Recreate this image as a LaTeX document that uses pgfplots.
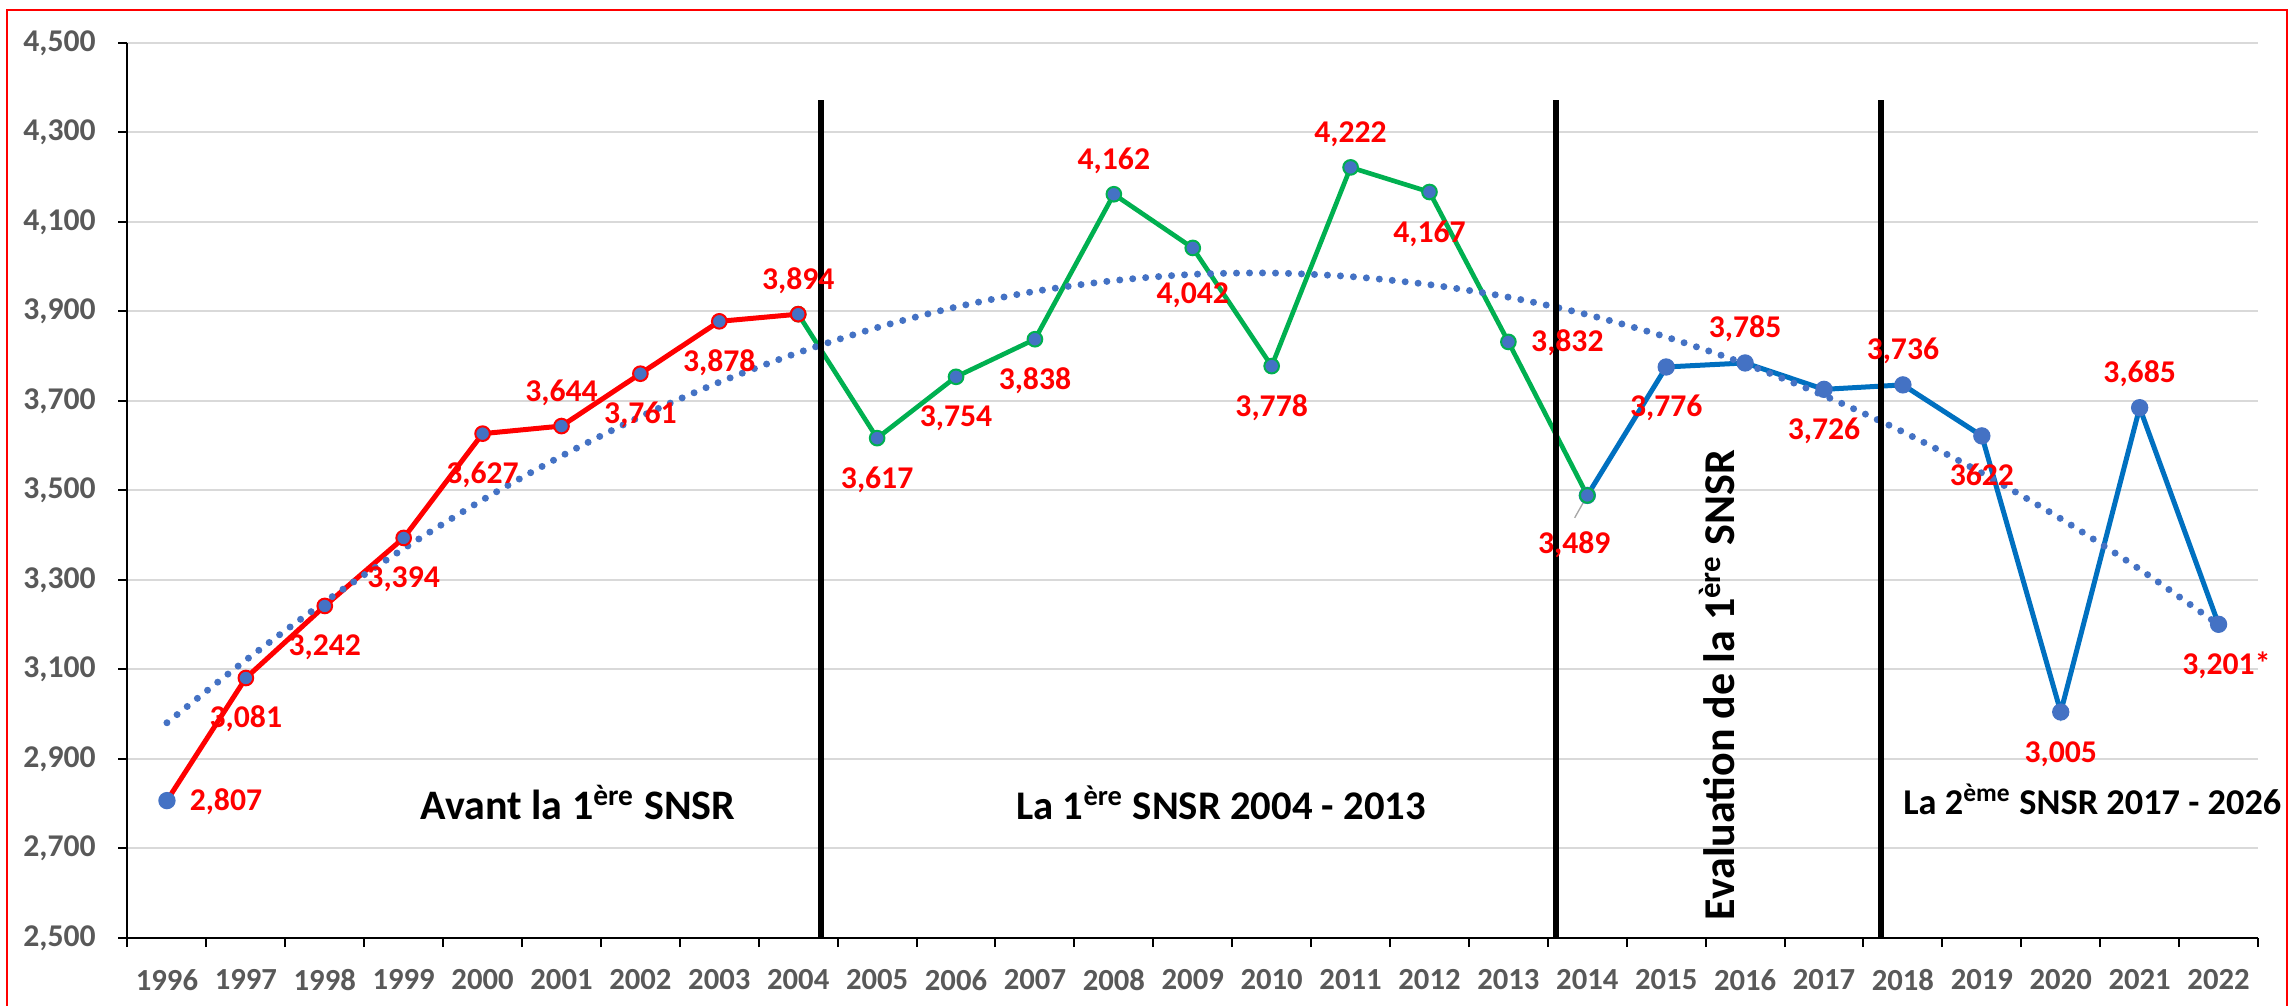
\documentclass[border=0pt]{standalone}
\usepackage{fontspec}
\setmainfont{Carlito}
\usepackage{pgfplots}
\pgfplotsset{compat=1.18}
\definecolor{cred}{HTML}{FF0000}
\definecolor{cgreen}{HTML}{00B050}
\definecolor{cblue}{HTML}{0070C0}
\definecolor{cmark}{HTML}{4472C4}
\definecolor{ctick}{HTML}{595959}
\definecolor{cgrid}{HTML}{D9D9D9}
\tikzset{
  lbl/.style={font=\fontsize{9.5}{11}\bfseries, text=cred, inner sep=0pt, anchor=base},
  bl/.style={lbl, yshift=-15pt},
  ab/.style={lbl, yshift=7.5pt},
}
\begin{document}
\begin{tikzpicture}
\path[use as bounding box] (-38.25pt,-20.4pt) rectangle (648.75pt,281.4pt);
\draw[cred, line width=0.6pt] (-36.15pt,-23pt) rectangle (647.85pt,278.4pt);
\begin{axis}[
  at={(0,0)}, anchor=south west,
  scale only axis, width=639.15pt, height=268.5pt,
  xmin=-0.5, xmax=26.5, ymin=2500, ymax=4500,
  clip=false,
  axis lines*=left,
  axis line style={black, line width=0.6pt},
  tick align=outside,
  major tick length=2.7pt, minor tick length=2.7pt,
  xtick={0,...,26},
  xticklabels={1996,1997,1998,1999,2000,2001,2002,2003,2004,2005,2006,2007,2008,2009,2010,2011,2012,2013,2014,2015,2016,2017,2018,2019,2020,2021,2022},
  minor xtick={-0.5,0.5,...,26.5},
  major x tick style={draw=none},
  minor x tick style={black, line width=0.6pt},
  ytick={2500,2700,...,4500},
  y tick style={black, line width=0.6pt},
  ymajorgrids,
  grid style={cgrid, line width=0.6pt},
  /pgf/number format/1000 sep={,},
  /pgf/number format/assume math mode=true,
  xticklabel style={font=\fontsize{9.2}{11}\bfseries, text=ctick, yshift=-3.3pt},
  yticklabel style={font=\fontsize{9.5}{11}\bfseries, text=ctick, xshift=-3.3pt},
]
% blue series (2014-2022)
\addplot[cblue, line width=1.5pt, mark=*, mark size=2.4pt,
  mark options={fill=cmark, draw=cmark, line width=0.4pt}] coordinates {
  (18,3489) (19,3776) (20,3785) (21,3726) (22,3736) (23,3622) (24,3005) (25,3685) (26,3201)};
% green series (2004-2014)
\addplot[cgreen, line width=1.4pt, mark=*, mark size=2.2pt,
  mark options={fill=cmark, draw=cgreen, line width=0.6pt}] coordinates {
  (8,3894) (9,3617) (10,3754) (11,3838) (12,4162) (13,4042) (14,3778) (15,4222) (16,4167) (17,3832) (18,3489)};
% red series (1996-2004)
\addplot[cred, line width=1.5pt, mark=*, mark size=2.2pt,
  mark options={fill=cmark, draw=cred, line width=0.6pt}] coordinates {
  (1,3081) (2,3242) (3,3394) (4,3627) (5,3644) (6,3761) (7,3878) (8,3894)};
\addplot[cred, line width=1.5pt, forget plot] coordinates {(0,2807) (1,3081)};
\addplot[only marks, mark=*, mark size=2.4pt, mark options={fill=cmark, draw=cmark, line width=0.4pt}] coordinates {(0,2807)};
% polynomial trend
\addplot[cmark, line width=2.1pt, dash pattern=on 0pt off 3.9pt, line cap=round, smooth, no marks] coordinates {
  (0,2981) (1,3121) (2,3251) (3,3370) (4,3479) (5,3577) (6,3665) (7,3742) (8,3808) (9,3864)
  (10,3910) (11,3945) (12,3969) (13,3983) (14,3986) (15,3978) (16,3960) (17,3932) (18,3893)
  (19,3843) (20,3783) (21,3712) (22,3631) (23,3539) (24,3437) (25,3324) (26,3200)};
% period separators
\draw[black, line width=1.7pt] (axis cs:8.29,2500) -- (axis cs:8.29,4373);
\draw[black, line width=1.7pt] (axis cs:17.60,2500) -- (axis cs:17.60,4373);
\draw[black, line width=1.7pt] (axis cs:21.72,2500) -- (axis cs:21.72,4373);
% leader line
\draw[gray!70, line width=0.4pt] (axis cs:18,3489) -- (axis cs:17.84,3439);
% data labels
\node[lbl, xshift=17.7pt, yshift=-3pt] at (axis cs:0,2807) {2,807};
\node[bl] at (axis cs:1,3081) {3,081};
\node[bl] at (axis cs:2,3242) {3,242};
\node[bl] at (axis cs:3,3394) {3,394};
\node[bl] at (axis cs:4,3627) {3,627};
\node[ab] at (axis cs:5,3644) {3,644};
\node[bl] at (axis cs:6,3761) {3,761};
\node[bl] at (axis cs:7,3878) {3,878};
\node[ab] at (axis cs:8,3894) {3,894};
\node[bl] at (axis cs:9,3617) {3,617};
\node[bl] at (axis cs:10,3754) {3,754};
\node[bl] at (axis cs:11,3838) {3,838};
\node[ab] at (axis cs:12,4162) {4,162};
\node[lbl, yshift=-16.6pt] at (axis cs:13,4042) {4,042};
\node[bl] at (axis cs:14,3778) {3,778};
\node[ab] at (axis cs:15,4222) {4,222};
\node[bl] at (axis cs:16,4167) {4,167};
\node[lbl, xshift=17.7pt, yshift=-3pt] at (axis cs:17,3832) {3,832};
\node[lbl, xshift=-3.9pt, yshift=-17.4pt] at (axis cs:18,3489) {3,489};
\node[bl] at (axis cs:19,3776) {3,776};
\node[ab] at (axis cs:20,3785) {3,785};
\node[bl] at (axis cs:21,3726) {3,726};
\node[ab] at (axis cs:22,3736) {3,736};
\node[bl] at (axis cs:23,3622) {3622};
\node[bl] at (axis cs:24,3005) {3,005};
\node[ab] at (axis cs:25,3685) {3,685};
\node[bl] at (axis cs:26,3201) {3,201\rlap{*}};
% period captions
\node[font=\fontsize{12.6}{14}\bfseries, anchor=base, inner sep=0pt] at (axis cs:5.21,2764) {Avant la 1\textsuperscript{ère} SNSR};
\node[font=\fontsize{12.2}{14}\bfseries, anchor=base, inner sep=0pt] at (axis cs:13.36,2764) {La 1\textsuperscript{ère} SNSR 2004 - 2013};
\node[font=\fontsize{10.9}{13}\bfseries, anchor=base, inner sep=0pt] at (axis cs:24.40,2775) {La 2\textsuperscript{ème} SNSR 2017 - 2026};
\node[font=\fontsize{13.2}{15}\bfseries, anchor=base, inner sep=0pt, rotate=90] at (axis cs:19.87,3065) {Evaluation de la 1\textsuperscript{ère} SNSR};
\end{axis}
\end{tikzpicture}
\end{document}
